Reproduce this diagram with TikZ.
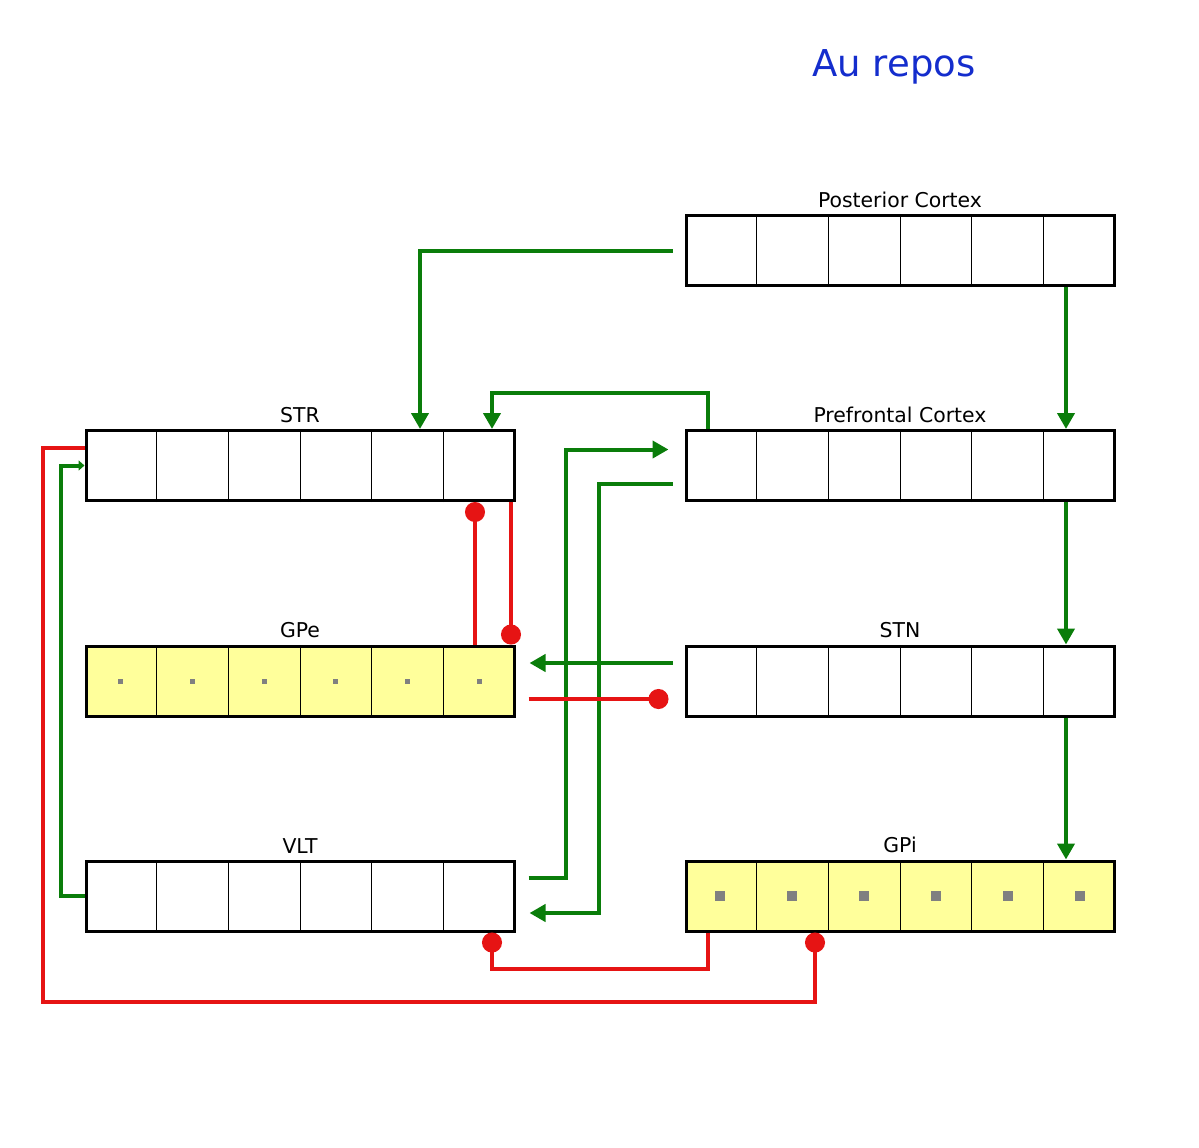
\documentclass[tikz,border=0pt]{standalone}
\usepackage{fontspec}
\setmainfont{DejaVu Sans}
\usetikzlibrary{arrows.meta,calc}
\definecolor{excgreen}{RGB}{10,125,10}
\definecolor{inhred}{RGB}{230,20,20}
\definecolor{reposblue}{RGB}{20,45,205}
\definecolor{cellyellow}{RGB}{255,255,155}
\tikzset{
  nucleus/.style={draw=black,line width=1.5pt,fill=white,minimum width=214pt,
    minimum height=35pt,inner sep=0pt},
  nuclabel/.style={font=\fontsize{10.2}{12}\selectfont,inner sep=3pt},
  excite/.style={draw=excgreen,line width=2pt,-{Triangle[length=8pt,width=8.5pt]}},
  inhibit/.style={draw=inhred,line width=2pt,-{Circle[length=10pt,width=10pt]}},
}
\newcommand{\drawcells}[1]{%
  \foreach \i in {1,...,5}
    \draw[line width=0.5pt] ($(#1.south west)!\i/6!(#1.south east)$)
      -- ($(#1.north west)!\i/6!(#1.north east)$);}
\newcommand{\drawdots}[2]{%
  \foreach \i in {1,...,6}
    \fill[gray] ($(#1.west)!{(\i-0.5)/6}!(#1.east)$) ++(-#2/2,-#2/2) rectangle ++(#2,#2);}

\begin{document}
\begin{tikzpicture}[x=0.5pt,y=-0.5pt]
    \useasboundingbox (0,0) rectangle (1199,1147);

    % Title
    \node[text=reposblue,font=\fontsize{18.5}{22}\selectfont] (title) at (894,67) {Au repos};

    % Nuclei
    \node[nucleus,label={[nuclabel]above:Posterior Cortex}] (post) at (900,250.5) {};
    \node[nucleus,label={[nuclabel]above:STR}] (str) at (300,465.5) {};
    \node[nucleus,label={[nuclabel]above:Prefrontal Cortex}] (pfc) at (900,465.5) {};
    \node[nucleus,fill=cellyellow,label={[nuclabel]above:GPe}] (gpe) at (300,681) {};
    \node[nucleus,label={[nuclabel]above:STN}] (stn) at (900,681) {};
    \node[nucleus,label={[nuclabel]above:VLT}] (vlt) at (300,896) {};
    \node[nucleus,fill=cellyellow,label={[nuclabel]above:GPi}] (gpi) at (900,896) {};

    % Cells
    \foreach \n in {post,str,pfc,gpe,stn,vlt,gpi}
        \drawcells{\n};
    \drawdots{gpe}{2.5pt}
    \drawdots{gpi}{5pt}

    % Excitatory connections
    \draw[excite] ([xshift=-6pt]post.west) -| ([xshift=60pt]str.north);
    \draw[excite] ([xshift=83pt]post.south) -- ([xshift=83pt]pfc.north);
    \draw[excite] ([xshift=-96pt]pfc.north) -- ++(0,-36) -| ([xshift=96pt]str.north);
    \draw[excite] ([xshift=6.5pt,yshift=9pt]vlt.east) -- ++(37,0)
        |- ([xshift=-8pt,yshift=8pt]pfc.west);
    \draw[excite] ([xshift=-6pt,yshift=-9pt]pfc.west) -- ++(-74,0)
        |- ([xshift=7pt,yshift=-8.5pt]vlt.east);
    \draw[excite] ([xshift=83pt]pfc.south) -- ([xshift=83pt]stn.north);
    \draw[excite] ([xshift=-6pt,yshift=9pt]stn.west) -- ([xshift=7pt,yshift=9pt]gpe.east);
    \draw[excite] ([xshift=83pt]stn.south) -- ([xshift=83pt]gpi.north);
    \draw[excite,-{Triangle[length=3pt,width=5pt]}] (vlt.west) -- ++(-24,0) |- (str.west);

    % Inhibitory connections
    \draw[inhibit] ([xshift=87.5pt]gpe.north) -- ([xshift=87.5pt]str.south);
    \draw[inhibit] ([xshift=105.5pt]str.south) -- ([xshift=105.5pt]gpe.north);
    \draw[inhibit] ([xshift=6.5pt,yshift=-9pt]gpe.east) -- ([xshift=-8pt,yshift=-9pt]stn.west);
    \draw[inhibit] ([xshift=-96pt]gpi.south) -- ++(0,36) -| ([xshift=96pt]vlt.south);
    \draw[inhibit] ([yshift=9pt]str.west) -- ++(-42,0) -- ++(0,554)
        -| ([xshift=-42.5pt]gpi.south);
\end{tikzpicture}
\end{document}
